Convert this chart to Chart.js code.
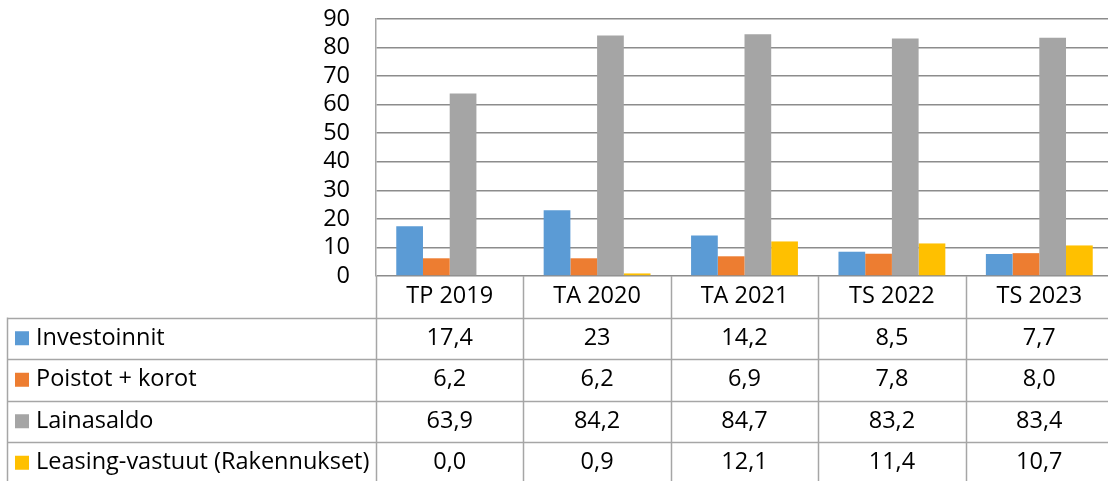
<!DOCTYPE html>
<html>
<head>
<meta charset="utf-8">
<script src="https://cdn.jsdelivr.net/npm/chart.js@4.4.1/dist/chart.umd.min.js"></script>
<style>
  html, body { margin: 0; padding: 0; background: #ffffff; overflow: hidden; }
  #wrap { width: 1108px; height: 481px; overflow: hidden; }
</style>
</head>
<body>
<div id="wrap"><canvas id="chart" width="1113" height="481"></canvas></div>
<script>
// ===== data =====
const categories = ["TP 2019", "TA 2020", "TA 2021", "TS 2022", "TS 2023"];
const investoinnit = [17.4, 23, 14.2, 8.5, 7.7];
const poistotKorot = [6.2, 6.2, 6.9, 7.8, 8.0];
const lainasaldo = [63.9, 84.2, 84.7, 83.2, 83.4];
const leasing = [0.0, 0.9, 12.1, 11.4, 10.7];
const yTicks = [0, 10, 20, 30, 40, 50, 60, 70, 80, 90];

const FONT = "'Open Sans', sans-serif";
const FONT_SIZE = 23.5;
const LINE = "#a6a6a6";
const ROW_H = 41.5;

// Investoinnit shown in "general" format, others with one decimal
function muotoile(v, kiintea) {
    const s = kiintea ? v.toFixed(1) : String(v);
    return s.replace(".", ",");
}

const sarjat = [
    { label: "Investoinnit", data: investoinnit, color: "#5b9bd5", fixed: false },
    { label: "Poistot + korot", data: poistotKorot, color: "#ed7d31", fixed: true },
    { label: "Lainasaldo", data: lainasaldo, color: "#a5a5a5", fixed: true },
    { label: "Leasing-vastuut (Rakennukset)", data: leasing, color: "#ffc000", fixed: true }
];

// data table under the plot
const taulukko = {
    id: "taulukko",
    afterDraw(chart) {
        const ctx = chart.ctx;
        const area = chart.chartArea;
        const x = chart.scales.x;
        const catW = (area.right - area.left) / categories.length;
        const top = area.bottom;
        const headBottom = top + ROW_H;
        const bottom = chart.height + 5;

        ctx.save();
        ctx.strokeStyle = LINE;
        ctx.lineWidth = 1.5;
        ctx.beginPath();
        // vertical lines
        for (let i = 0; i <= categories.length; i++) {
            const px = Math.round(area.left + i * catW) + 0.5;
            ctx.moveTo(px, top);
            ctx.lineTo(px, bottom);
        }
        ctx.moveTo(7.5, headBottom);
        ctx.lineTo(7.5, bottom);
        // horizontal lines
        for (let r = 0; r < sarjat.length; r++) {
            const py = Math.round(headBottom + r * ROW_H) + 0.5;
            ctx.moveTo(7, py);
            ctx.lineTo(area.right, py);
        }
        ctx.stroke();

        ctx.font = FONT_SIZE + "px " + FONT;
        ctx.fillStyle = "#000000";
        ctx.textBaseline = "middle";
        ctx.textAlign = "center";
        categories.forEach((c, i) => {
            ctx.fillText(c, x.getPixelForValue(i), top + ROW_H / 2);
        });
        sarjat.forEach((s, r) => {
            const cy = headBottom + r * ROW_H + ROW_H / 2;
            ctx.fillStyle = s.color;
            ctx.fillRect(15, cy - 7, 14, 14);
            ctx.fillStyle = "#000000";
            ctx.textAlign = "left";
            ctx.fillText(s.label, 36, cy);
            ctx.textAlign = "center";
            s.data.forEach((v, i) => {
                ctx.fillText(muotoile(v, s.fixed), x.getPixelForValue(i), cy);
            });
        });
        ctx.restore();
    }
};

new Chart(document.getElementById("chart"), {
    type: "bar",
    data: {
        labels: categories,
        datasets: sarjat.map(s => ({
            label: s.label,
            data: s.data,
            backgroundColor: s.color,
            borderWidth: 0,
            categoryPercentage: 0.725,
            barPercentage: 1.0
        }))
    },
    options: {
        responsive: false,
        animation: false,
        devicePixelRatio: 1,
        layout: { padding: { top: 19, bottom: 205, left: 0, right: 0 } },
        plugins: {
            legend: { display: false },
            title: { display: false },
            tooltip: { enabled: false }
        },
        scales: {
            x: {
                display: false
            },
            y: {
                min: 0,
                max: 90,
                afterFit: scale => {
                    scale.width = 376;
                    scale.paddingTop = 0;
                    scale.paddingBottom = 0;
                },
                afterBuildTicks: scale => { scale.ticks = yTicks.map(v => ({ value: v })); },
                ticks: {
                    autoSkip: false,
                    padding: 26,
                    color: "#000000",
                    font: { family: FONT, size: FONT_SIZE }
                },
                grid: { color: "#8c8c8c", lineWidth: 1.5, drawTicks: false },
                border: { display: true, color: LINE, width: 1.5 }
            }
        }
    },
    plugins: [taulukko]
});
</script>
</body>
</html>
